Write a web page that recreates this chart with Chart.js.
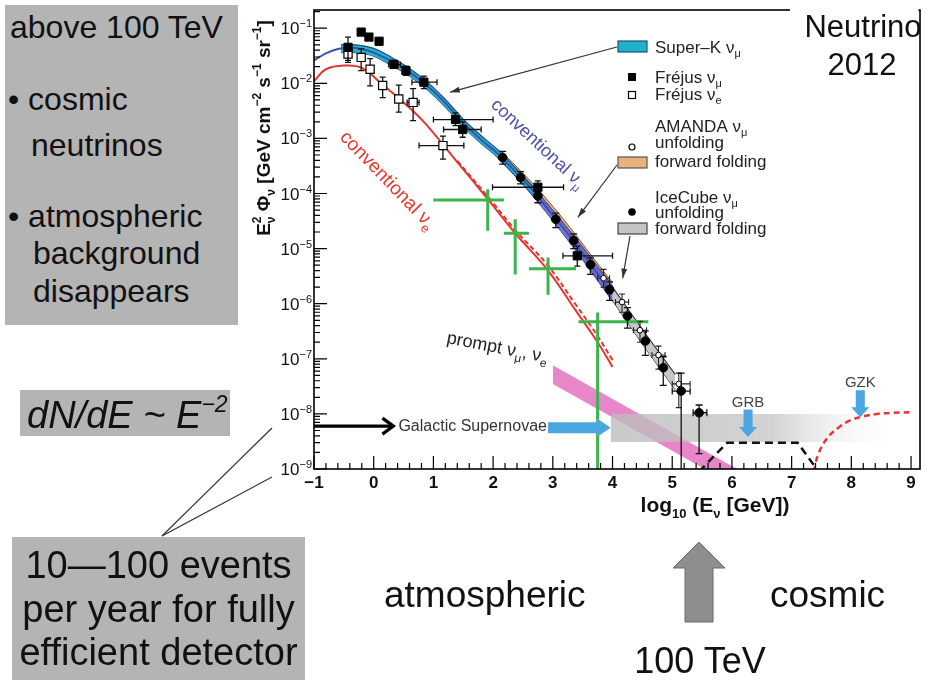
<!DOCTYPE html>
<html>
<head>
<meta charset="utf-8">
<script src="https://cdn.jsdelivr.net/npm/chart.js@4.4.1/dist/chart.umd.min.js"></script>
<style>
  html, body { margin: 0; padding: 0; background: #fff; }
  body { position: relative; width: 928px; height: 680px; overflow: hidden;
         font-family: "Liberation Sans", Arial, Helvetica, sans-serif; color: #111; }
  #flux { position: absolute; left: 0; top: 0; }
  svg { position: absolute; left: 0; top: 0; }
  .panel { position: absolute; background: #b4b4b4; }
  .ln { position: absolute; white-space: nowrap; line-height: 1; }
</style>
</head>
<body>
<canvas id="flux" width="928" height="680"></canvas>
<svg width="928" height="680">
  <line x1="162" y1="536" x2="272" y2="428" stroke="#333" stroke-width="1.2"/>
  <line x1="162" y1="536" x2="272" y2="477" stroke="#333" stroke-width="1.2"/>
  <polygon points="699,542 725,568 713,568 713,622 685,622 685,568 673,568" fill="#8e8e8e" stroke="#6a6a6a" stroke-width="1"/>
</svg>

<div class="panel" style="left:5px;top:5px;width:233px;height:320px"></div>
<div class="ln" style="left:10px;top:11px;font-size:32px">above 100 TeV</div>
<div class="ln" style="left:8px;top:83px;font-size:32px">• cosmic</div>
<div class="ln" style="left:31px;top:129px;font-size:32px">neutrinos</div>
<div class="ln" style="left:8px;top:200px;font-size:32px">• atmospheric</div>
<div class="ln" style="left:33px;top:237px;font-size:32px">background</div>
<div class="ln" style="left:33px;top:275px;font-size:32px">disappears</div>

<div class="panel" style="left:20px;top:390px;width:210px;height:46px"></div>
<div class="ln" style="left:27px;top:396px;font-size:38px;font-style:italic">dN/dE ~ E<span style="font-size:23px;position:relative;top:-16px">−2</span></div>

<div class="panel" style="left:12px;top:537px;width:293px;height:143px"></div>
<div class="ln" style="left:12px;width:293px;text-align:center;top:546px;font-size:38px">10—100 events</div>
<div class="ln" style="left:12px;width:293px;text-align:center;top:590px;font-size:38px">per year for fully</div>
<div class="ln" style="left:12px;width:293px;text-align:center;top:633px;font-size:38px">efficient detector</div>

<div class="ln" style="left:384px;top:576px;font-size:37px">atmospheric</div>
<div class="ln" style="left:770px;top:576px;font-size:37px">cosmic</div>
<div class="ln" style="left:600px;width:200px;text-align:center;top:643px;font-size:36px">100 TeV</div>

<script>
// x: log10(E / GeV), y: E^2 dN/dE in GeV cm^-2 s^-1 sr^-1
const xTicks = [-1, 0, 1, 2, 3, 4, 5, 6, 7, 8, 9];
const yDecades = [-9, -8, -7, -6, -5, -4, -3, -2, -1];

// conventional atmospheric nu_mu
const convMuE = [-1.0, -0.8, -0.6, -0.4, -0.2, 0.0, 0.3, 0.6, 0.9, 1.2, 1.5, 1.8, 2.1, 2.4, 2.7, 3.0, 3.3, 3.6, 3.9, 4.0];
const convMuFlux = [2.6e-2, 3.5e-2, 4.2e-2, 4.4e-2, 4.2e-2, 3.6e-2, 2.5e-2, 1.6e-2, 8.9e-3, 4.4e-3, 1.9e-3, 9.5e-4, 5.0e-4, 2.3e-4, 1.02e-4, 4.0e-5, 1.6e-5, 5.8e-6, 2.1e-6, 1.5e-6];

// conventional atmospheric nu_e (solid and dashed)
const convEE = [-1.0, -0.8, -0.5, -0.2, 0.17, 0.5, 0.84, 1.41, 1.91, 2.37, 2.92, 3.4, 3.75, 4.0];
const convEFlux = [1.1e-2, 1.8e-2, 2.1e-2, 1.9e-2, 9.0e-3, 4.5e-3, 2.0e-3, 3.6e-4, 7.9e-5, 1.9e-5, 4.0e-6, 7.1e-7, 2.0e-7, 7.1e-8];
const convEDashE = [1.4, 1.9, 2.4, 2.9, 3.4, 3.75, 4.0];
const convEDashFlux = [3.9e-4, 9.1e-5, 2.0e-5, 5.2e-6, 9.1e-7, 2.6e-7, 9.5e-8];

// measured / unfolded bands
const superKE = [-0.55, -0.3, 0.0, 0.3, 0.6, 0.9, 1.2, 1.5, 1.8, 2.1, 2.4, 2.7];
const superKHi = [5.0e-2, 5.0e-2, 4.3e-2, 2.95e-2, 1.86e-2, 1.05e-2, 5.1e-3, 2.24e-3, 1.12e-3, 5.9e-4, 2.7e-4, 1.2e-4];
const superKLo = [3.6e-2, 3.6e-2, 3.1e-2, 2.1e-2, 1.35e-2, 7.6e-3, 3.7e-3, 1.62e-3, 8.1e-4, 4.3e-4, 1.95e-4, 8.7e-5];

const convMuBandE = [2.0, 2.5, 3.0, 3.5, 4.0];
const convMuBandHi = [7.1e-4, 2.1e-4, 5.0e-5, 1.07e-5, 2.1e-6];
const convMuBandLo = [5.4e-4, 1.45e-4, 3.2e-5, 6.2e-6, 1.1e-6];

const amandaFFE = [2.2, 2.7, 3.2, 3.7, 4.0];
const amandaFFHi = [5.0e-4, 1.38e-4, 3.2e-5, 6.3e-6, 2.4e-6];
const amandaFFLo = [4.1e-4, 1.1e-4, 2.4e-5, 4.8e-6, 1.74e-6];

const icecubeFFE = [3.4, 4.0, 4.5, 5.05];
const icecubeFFHi = [1.41e-5, 2.0e-6, 3.4e-7, 5.2e-8];
const icecubeFFLo = [9.8e-6, 1.15e-6, 1.86e-7, 2.75e-8];

// prompt nu_mu, nu_e
const promptE = [3.0, 6.2];
const promptHi = [7.6e-8, 8.5e-10];
const promptLo = [3.5e-8, 4.0e-10];

// galactic supernovae, GRB and GZK expectations
const snBandE = [3.97, 8.9];
const snBandHi = [1.0e-8, 1.0e-8];
const snBandLo = [3.1e-9, 3.1e-9];
const grbE = [5.45, 5.92, 7.1, 7.45];
const grbFlux = [9e-10, 3.0e-9, 3.0e-9, 9e-10];
const gzkE = [7.37, 7.45, 7.61, 7.8, 7.98, 8.2, 8.43, 8.7, 9.03];
const gzkFlux = [9e-10, 1.9e-9, 3.8e-9, 5.8e-9, 7.6e-9, 9.0e-9, 1.0e-8, 1.05e-8, 1.07e-8];

// data points: [logE, flux, fluxLow, fluxHigh, logELow, logEHigh]
const frejusMu = [
  [-0.43, 4.5e-2, 2.4e-2, 6.9e-2],
  [-0.21, 8.5e-2, 7.6e-2, 9.5e-2],
  [-0.08, 6.9e-2, 6.2e-2, 7.7e-2],
  [0.09, 5.8e-2, 5.0e-2, 6.6e-2],
  [0.34, 2.2e-2, 1.9e-2, 2.6e-2, 0.25, 0.45],
  [0.54, 1.7e-2, 1.4e-2, 2.05e-2],
  [0.84, 1.05e-2, 8.0e-3, 1.35e-2, 0.64, 1.06],
  [1.37, 2.2e-3, 1.7e-3, 2.9e-3, 1.0, 2.0],
  [1.49, 1.45e-3, 1.05e-3, 2.0e-3, 1.17, 1.8],
  [2.75, 1.3e-4, 1.0e-4, 1.7e-4, 1.99, 3.18],
  [3.41, 7.4e-6, 4.8e-6, 1.1e-5, 3.17, 4.0]
];
const frejusE = [
  [-0.43, 3.4e-2, 2.6e-2, 4.4e-2],
  [-0.21, 2.95e-2, 1.7e-2, 4.2e-2],
  [-0.06, 1.8e-2, 9.0e-3, 2.8e-2],
  [0.15, 9.1e-3, 5.5e-3, 1.3e-2],
  [0.42, 5.2e-3, 3.0e-3, 9.3e-3],
  [0.66, 4.5e-3, 2.1e-3, 8.0e-3, 0.56, 0.76],
  [1.16, 7.4e-4, 4.2e-4, 1.1e-3, 0.76, 1.51]
];
const icecubeUnf = [
  [2.16, 4.5e-4, 3.4e-4, 5.8e-4],
  [2.46, 1.95e-4, 1.5e-4, 2.5e-4],
  [2.75, 9.1e-5, 6.8e-5, 1.2e-4],
  [3.05, 3.4e-5, 2.4e-5, 4.4e-5],
  [3.35, 1.4e-5, 1.0e-5, 1.85e-5],
  [3.63, 5.1e-6, 3.4e-6, 6.8e-6],
  [3.95, 1.8e-6, 1.15e-6, 2.5e-6],
  [4.25, 6.0e-7, 3.6e-7, 8.5e-7],
  [4.55, 2.1e-7, 1.15e-7, 3.2e-7],
  [4.85, 6.9e-8, 3.3e-8, 1.1e-7],
  [5.15, 2.6e-8, 5e-10, 5.5e-8, 5.0, 5.3],
  [5.45, 1.05e-8, 1.9e-9, 1.45e-8, 5.35, 5.58]
];
const amandaUnf = [
  [3.85, 2.9e-6, 2.0e-6, 4.2e-6, 3.75, 3.95],
  [4.16, 1.07e-6, 7.0e-7, 1.5e-6, 4.05, 4.27],
  [4.46, 3.3e-7, 2.0e-7, 4.8e-7, 4.35, 4.57],
  [4.77, 1.17e-7, 6.5e-8, 1.7e-7, 4.66, 4.88],
  [5.11, 3.5e-8, 1.3e-8, 5.5e-8, 5.0, 5.3]
];
const nuECross = [
  [1.91, 7.6e-5, 2.1e-5, 1.2e-4, 1.0, 2.18],
  [2.37, 1.9e-5, 3.4e-6, 3.4e-5, 2.18, 2.6],
  [2.92, 4.3e-6, 1.45e-6, 6.9e-6, 2.6, 3.39],
  [3.75, 4.7e-7, 1e-10, 6.9e-7, 3.43, 4.6]
];

// annotation anchors in data coordinates
const snSourceE = [-1.0, 0.33], snSourceFlux = 6.0e-9;
const snArrowE = [2.92, 3.97], snArrowFlux = 5.6e-9;
const grbArrow = { e: 6.27, top: 1.2e-8, tip: 3.8e-9 };
const gzkArrow = { e: 8.15, top: 2.7e-8, tip: 8.7e-9 };
const superKPointer = { e: 1.28, flux: 6.9e-3 };
const amandaPointer = { e: 3.42, flux: 3.7e-5 };
const icecubePointer = { e: 4.17, flux: 2.9e-6 };

const FONT = '"Liberation Sans", Arial, Helvetica, sans-serif';
Chart.defaults.font.family = FONT;

const line = (xs, ys) => xs.map((x, i) => ({ x, y: ys[i] }));
const rows = r => r.map(([x, y, yl, yh, xl, xh]) => ({ x, y, yl, yh, xl, xh }));

// text with sub/superscripts; parts: {t, s (size), dy, hold (stack with next)}
function rich(ctx, parts, x, y, opt) {
  const base = opt.size, weight = opt.weight || 'normal';
  const fontFor = p => `${weight} ${p.s || base}px ${FONT}`;
  const widths = parts.map(p => { ctx.font = fontFor(p); return ctx.measureText(p.t).width; });
  let total = 0, held = 0;
  parts.forEach((p, i) => {
    if (p.hold) held = widths[i];
    else { total += Math.max(widths[i], held); held = 0; }
  });
  let cx = opt.align === 'center' ? x - total / 2 : opt.align === 'right' ? x - total : x;
  ctx.textAlign = 'left';
  ctx.textBaseline = 'alphabetic';
  held = 0;
  parts.forEach((p, i) => {
    ctx.font = fontFor(p);
    ctx.fillText(p.t, cx, y + (p.dy || 0));
    if (p.hold) held = widths[i];
    else { cx += Math.max(widths[i], held); held = 0; }
  });
}

function pointer(ctx, x1, y1, x2, y2) {
  ctx.beginPath(); ctx.moveTo(x1, y1); ctx.lineTo(x2, y2); ctx.stroke();
  const ang = Math.atan2(y2 - y1, x2 - x1), h = 10;
  ctx.beginPath();
  ctx.moveTo(x2, y2);
  ctx.lineTo(x2 - h * Math.cos(ang - 0.3), y2 - h * Math.sin(ang - 0.3));
  ctx.lineTo(x2 - h * Math.cos(ang + 0.3), y2 - h * Math.sin(ang + 0.3));
  ctx.closePath(); ctx.fill();
}

function arrowDown(ctx, cx, top, tip) {
  const sw = 4.5, hw = 9, hl = 10;
  ctx.beginPath();
  ctx.moveTo(cx - sw, top); ctx.lineTo(cx + sw, top); ctx.lineTo(cx + sw, tip - hl);
  ctx.lineTo(cx + hw, tip - hl); ctx.lineTo(cx, tip); ctx.lineTo(cx - hw, tip - hl);
  ctx.lineTo(cx - sw, tip - hl); ctx.closePath(); ctx.fill();
}

function arrowRight(ctx, x1, tip, cy) {
  const sh = 5.5, hh = 9.5, hl = 14;
  ctx.beginPath();
  ctx.moveTo(x1, cy - sh); ctx.lineTo(tip - hl, cy - sh); ctx.lineTo(tip - hl, cy - hh);
  ctx.lineTo(tip, cy); ctx.lineTo(tip - hl, cy + hh); ctx.lineTo(tip - hl, cy + sh);
  ctx.lineTo(x1, cy + sh); ctx.closePath(); ctx.fill();
}

// error bars under each point dataset
const errorBars = {
  id: 'errorBars',
  beforeDatasetDraw(chart, args) {
    const ds = chart.data.datasets[args.index];
    if (!ds.errColor) return;
    const { ctx, chartArea: a, scales: { x, y } } = chart;
    ctx.save();
    ctx.beginPath(); ctx.rect(a.left, a.top, a.right - a.left, a.bottom - a.top); ctx.clip();
    ctx.strokeStyle = ds.errColor;
    ctx.lineWidth = ds.errWidth;
    const c = ds.cap;
    ds.data.forEach(p => {
      const px = x.getPixelForValue(p.x), py = y.getPixelForValue(p.y);
      ctx.beginPath();
      if (p.yl !== undefined) {
        const y1 = y.getPixelForValue(p.yl), y2 = y.getPixelForValue(p.yh);
        ctx.moveTo(px, y1); ctx.lineTo(px, y2);
        if (c) { ctx.moveTo(px - c, y1); ctx.lineTo(px + c, y1); ctx.moveTo(px - c, y2); ctx.lineTo(px + c, y2); }
      }
      if (p.xl !== undefined) {
        const x1 = x.getPixelForValue(p.xl), x2 = x.getPixelForValue(p.xh);
        ctx.moveTo(x1, py); ctx.lineTo(x2, py);
        if (c) { ctx.moveTo(x1, py - c); ctx.lineTo(x1, py + c); ctx.moveTo(x2, py - c); ctx.lineTo(x2, py + c); }
      }
      ctx.stroke();
    });
    ctx.restore();
  }
};

// frame, inward ticks, axis labels, legend and annotations
const decor = {
  id: 'decor',
  afterDatasetsDraw(chart) {
    const { ctx, chartArea: a, scales: { x, y } } = chart;
    const X = v => x.getPixelForValue(v), Y = v => y.getPixelForValue(v);
    ctx.save();

    ctx.save();
    ctx.beginPath(); ctx.rect(a.left, a.top, a.right - a.left, a.bottom - a.top); ctx.clip();
    // galactic supernovae
    const ys = Y(snSourceFlux), xt = X(snSourceE[1]);
    ctx.strokeStyle = '#000'; ctx.lineWidth = 3.2;
    ctx.beginPath(); ctx.moveTo(X(snSourceE[0]), ys); ctx.lineTo(xt - 1, ys); ctx.stroke();
    ctx.beginPath(); ctx.moveTo(xt - 11, ys - 8); ctx.lineTo(xt, ys); ctx.lineTo(xt - 11, ys + 8); ctx.stroke();
    ctx.fillStyle = '#333'; ctx.font = `16px ${FONT}`;
    ctx.textAlign = 'left'; ctx.textBaseline = 'middle';
    ctx.fillText('Galactic Supernovae', xt + 5, ys);
    ctx.fillStyle = '#4ba6e0';
    arrowRight(ctx, X(snArrowE[0]), X(snArrowE[1]), Y(snArrowFlux));
    arrowDown(ctx, X(grbArrow.e), Y(grbArrow.top), Y(grbArrow.tip));
    arrowDown(ctx, X(gzkArrow.e), Y(gzkArrow.top), Y(gzkArrow.tip));
    ctx.fillStyle = '#444'; ctx.font = `15px ${FONT}`;
    ctx.textAlign = 'center'; ctx.textBaseline = 'alphabetic';
    ctx.fillText('GRB', X(grbArrow.e), Y(grbArrow.top) - 3);
    ctx.fillText('GZK', X(gzkArrow.e), Y(gzkArrow.top) - 3);
    ctx.restore();

    // frame
    ctx.strokeStyle = '#000'; ctx.lineWidth = 1.6;
    ctx.strokeRect(a.left, a.top, a.right - a.left, a.bottom - a.top);

    // ticks pointing inward
    ctx.lineWidth = 1.2;
    ctx.beginPath();
    for (let i = -5; i <= 45; i++) {
      const px = X(i / 5), len = i % 5 === 0 ? 13 : 6;
      ctx.moveTo(px, a.bottom); ctx.lineTo(px, a.bottom - len);
    }
    yDecades.forEach(e => {
      for (let k = 1; k <= 9; k++) {
        const v = k * Math.pow(10, e);
        if (v > y.max) break;
        const py = Y(v), len = k === 1 ? 13 : 6;
        ctx.moveTo(a.left, py); ctx.lineTo(a.left + len, py);
      }
    });
    ctx.stroke();

    // tick labels
    ctx.fillStyle = '#111';
    ctx.font = `bold 17px ${FONT}`;
    ctx.textAlign = 'center'; ctx.textBaseline = 'middle';
    xTicks.forEach(v => ctx.fillText(v < 0 ? '−' + (-v) : String(v), X(v), a.bottom + 14));
    yDecades.forEach(e => {
      const py = Y(Math.pow(10, e));
      rich(ctx, [{ t: '10', dy: 6 }, { t: '−' + (-e), s: 11, dy: -1 }], a.left - 2, py, { size: 17, align: 'right' });
    });

    // axis titles
    rich(ctx, [{ t: 'log' }, { t: '10', s: 13, dy: 6 }, { t: ' (E' }, { t: 'ν', s: 13, dy: 6 }, { t: ' [GeV])' }],
      715, 512, { size: 21, weight: 'bold', align: 'center' });
    ctx.save();
    ctx.translate(263, 128); ctx.rotate(-Math.PI / 2);
    rich(ctx, [{ t: 'E' }, { t: '2', s: 12, dy: -9, hold: true }, { t: 'ν', s: 12, dy: 5 }, { t: ' Φ' }, { t: 'ν', s: 12, dy: 5 },
      { t: ' [GeV cm' }, { t: '−2', s: 12, dy: -9 }, { t: ' s' }, { t: '−1', s: 12, dy: -9 }, { t: ' sr' }, { t: '−1', s: 12, dy: -9 }, { t: ']' }],
      0, 7, { size: 19, weight: 'bold', align: 'center' });
    ctx.restore();

    // curve labels
    ctx.save();
    ctx.translate(490, 106); ctx.rotate(43 * Math.PI / 180);
    ctx.fillStyle = '#4a52a6';
    rich(ctx, [{ t: 'conventional ν' }, { t: 'μ', s: 12, dy: 5 }], 0, 0, { size: 18 });
    ctx.restore();
    ctx.save();
    ctx.translate(339, 138); ctx.rotate(46 * Math.PI / 180);
    ctx.fillStyle = '#e8352d';
    rich(ctx, [{ t: 'conventional ν' }, { t: 'e', s: 13, dy: 5 }], 0, 0, { size: 19 });
    ctx.restore();
    ctx.save();
    ctx.translate(446, 343); ctx.rotate(11 * Math.PI / 180);
    ctx.fillStyle = '#222';
    rich(ctx, [{ t: 'prompt ν' }, { t: 'μ', s: 12, dy: 5 }, { t: ', ν' }, { t: 'e', s: 12, dy: 5 }], 0, 0, { size: 18 });
    ctx.restore();

    // legend
    ctx.strokeStyle = '#333'; ctx.fillStyle = '#333'; ctx.lineWidth = 1.2;
    pointer(ctx, 617, 47, X(superKPointer.e), Y(superKPointer.flux));
    pointer(ctx, 617, 165, X(amandaPointer.e), Y(amandaPointer.flux));
    pointer(ctx, 630, 236, X(icecubePointer.e), Y(icecubePointer.flux));
    const box = (top, fill, edge) => {
      ctx.fillStyle = fill; ctx.fillRect(618, top, 29, 11);
      ctx.strokeStyle = edge; ctx.lineWidth = 1.2; ctx.strokeRect(618, top, 29, 11);
    };
    box(41, '#1fb3c9', '#1b4f7a');
    box(157, '#e9b27c', '#555');
    box(223, '#c4c4c4', '#444');
    ctx.fillStyle = '#000'; ctx.fillRect(628, 73, 8, 8);
    ctx.strokeStyle = '#000'; ctx.lineWidth = 1.2; ctx.strokeRect(628.5, 91.5, 7, 7);
    ctx.beginPath(); ctx.arc(632, 147, 3, 0, Math.PI * 2); ctx.stroke();
    ctx.beginPath(); ctx.arc(632, 212, 3.8, 0, Math.PI * 2); ctx.fill();
    ctx.fillStyle = '#222';
    const L = 655;
    rich(ctx, [{ t: 'Super–K ν' }, { t: 'μ', s: 11, dy: 4 }], L, 53, { size: 17 });
    rich(ctx, [{ t: 'Fréjus ν' }, { t: 'μ', s: 11, dy: 4 }], L, 83, { size: 17 });
    rich(ctx, [{ t: 'Fréjus ν' }, { t: 'e', s: 11, dy: 4 }], L, 100, { size: 17 });
    rich(ctx, [{ t: 'AMANDA ν' }, { t: 'μ', s: 11, dy: 4 }], L, 132, { size: 17 });
    rich(ctx, [{ t: 'unfolding' }], L, 148, { size: 17 });
    rich(ctx, [{ t: 'forward folding' }], L, 167, { size: 17 });
    rich(ctx, [{ t: 'IceCube ν' }, { t: 'μ', s: 11, dy: 4 }], L, 203, { size: 17 });
    rich(ctx, [{ t: 'unfolding' }], L, 218, { size: 17 });
    rich(ctx, [{ t: 'forward folding' }], L, 234, { size: 17 });

    // conference tag
    ctx.fillStyle = '#fff'; ctx.fillRect(790, 0, 128.5, 86);
    ctx.fillStyle = '#111'; ctx.font = `31px ${FONT}`;
    ctx.textAlign = 'center'; ctx.textBaseline = 'alphabetic';
    ctx.fillText('Neutrino', 863, 37);
    ctx.fillText('2012', 862, 75);
    ctx.restore();
  }
};

const snGradient = ctx => {
  const { chart } = ctx;
  if (!chart.chartArea) return 'rgba(190,190,190,0.75)';
  const x = chart.scales.x;
  const g = chart.ctx.createLinearGradient(x.getPixelForValue(snBandE[0]), 0, x.getPixelForValue(snBandE[1]), 0);
  g.addColorStop(0, 'rgba(188,188,188,0.8)');
  g.addColorStop(0.55, 'rgba(196,196,196,0.75)');
  g.addColorStop(1, 'rgba(255,255,255,0)');
  return g;
};

const curve = (data, color, width, order, extra) => Object.assign({
  data, borderColor: color, borderWidth: width, pointRadius: 0, fill: false, tension: 0, order
}, extra || {});

const datasets = [
  // points on top
  { label: 'IceCube νμ unfolding', data: rows(icecubeUnf), showLine: false, pointStyle: 'circle', pointRadius: 4.3,
    pointBackgroundColor: '#000', pointBorderColor: '#000', errColor: '#111', errWidth: 1.3, cap: 3.5, order: 0 },
  { label: 'AMANDA νμ unfolding', data: rows(amandaUnf), showLine: false, pointStyle: 'circle', pointRadius: 2.8,
    pointBackgroundColor: '#fff', pointBorderColor: '#000', pointBorderWidth: 1, errColor: '#222', errWidth: 1.1, cap: 3, order: 1 },
  { label: 'Fréjus νμ', data: rows(frejusMu), showLine: false, pointStyle: 'rect', pointRadius: 5.8,
    pointBackgroundColor: '#000', pointBorderColor: '#000', errColor: '#111', errWidth: 1.3, cap: 3, order: 2 },
  { label: 'Fréjus νe', data: rows(frejusE), showLine: false, pointStyle: 'rect', pointRadius: 5.8,
    pointBackgroundColor: '#fff', pointBorderColor: '#000', pointBorderWidth: 1.2, errColor: '#111', errWidth: 1.3, cap: 3, order: 3 },
  { label: 'νe crosses', data: rows(nuECross), showLine: false, pointRadius: 0, errColor: '#3cb44b', errWidth: 3, cap: 0, order: 4 },

  curve(line(convEE, convEFlux), '#e8352d', 2, 5, { label: 'conventional νe', tension: 0.4 }),
  curve(line(convEDashE, convEDashFlux), '#e8352d', 2, 6, { label: 'conventional νe (dashed)', tension: 0.4, borderDash: [5, 3] }),
  curve(line(convMuE, convMuFlux), '#3d50b4', 2, 7, { label: 'conventional νμ', tension: 0.4 }),

  curve(line(superKE, superKHi), '#1b4f7a', 1.2, 8, { label: 'Super-K', tension: 0.4, fill: '+1', backgroundColor: '#21b3c8' }),
  curve(line(superKE, superKLo), '#1b4f7a', 1.2, 9, { tension: 0.4 }),
  curve(line(convMuBandE, convMuBandHi), '#3b3f8c', 1, 10, { label: 'conventional νμ band', tension: 0.3, fill: '+1', backgroundColor: 'rgba(92,96,196,0.85)' }),
  curve(line(convMuBandE, convMuBandLo), '#3b3f8c', 1, 11, { tension: 0.3 }),
  curve(line(amandaFFE, amandaFFHi), '#7a5a3a', 1, 12, { label: 'AMANDA forward folding', tension: 0.3, fill: '+1', backgroundColor: '#e9b27c' }),
  curve(line(amandaFFE, amandaFFLo), '#7a5a3a', 1, 13, { tension: 0.3 }),
  curve(line(icecubeFFE, icecubeFFHi), '#333', 1.1, 14, { label: 'IceCube forward folding', fill: '+1', backgroundColor: '#c6c6c6' }),
  curve(line(icecubeFFE, icecubeFFLo), '#333', 1.1, 15),

  curve(line(gzkE, gzkFlux), '#e8352d', 2.5, 16, { label: 'GZK', tension: 0.4, borderDash: [6, 4] }),
  curve(line(grbE, grbFlux), '#111', 2.5, 17, { label: 'GRB', borderDash: [8, 5] }),
  curve(line(snBandE, snBandHi), 'rgba(0,0,0,0)', 0, 18, { label: 'Galactic Supernovae', fill: '+1', backgroundColor: snGradient }),
  curve(line(snBandE, snBandLo), 'rgba(0,0,0,0)', 0, 19),
  curve(line(promptE, promptHi), 'rgba(0,0,0,0)', 0, 20, { label: 'prompt', fill: '+1', backgroundColor: 'rgba(228,122,196,0.9)' }),
  curve(line(promptE, promptLo), 'rgba(0,0,0,0)', 0, 21)
];

new Chart(document.getElementById('flux'), {
  type: 'line',
  data: { datasets },
  options: {
    responsive: false,
    animation: false,
    devicePixelRatio: 1,
    events: [],
    layout: { padding: { left: 0, top: 10, right: 8, bottom: 0 } },
    plugins: { legend: { display: false }, tooltip: { enabled: false } },
    scales: {
      x: {
        type: 'linear', min: -1, max: 9.15,
        grid: { display: false }, border: { display: false }, ticks: { display: false },
        afterFit: s => { s.height = 211; }
      },
      y: {
        type: 'logarithmic', min: 1e-9, max: 0.214,
        grid: { display: false }, border: { display: false }, ticks: { display: false },
        afterFit: s => { s.width = 314; }
      }
    }
  },
  plugins: [errorBars, decor]
});
</script>
</body>
</html>
